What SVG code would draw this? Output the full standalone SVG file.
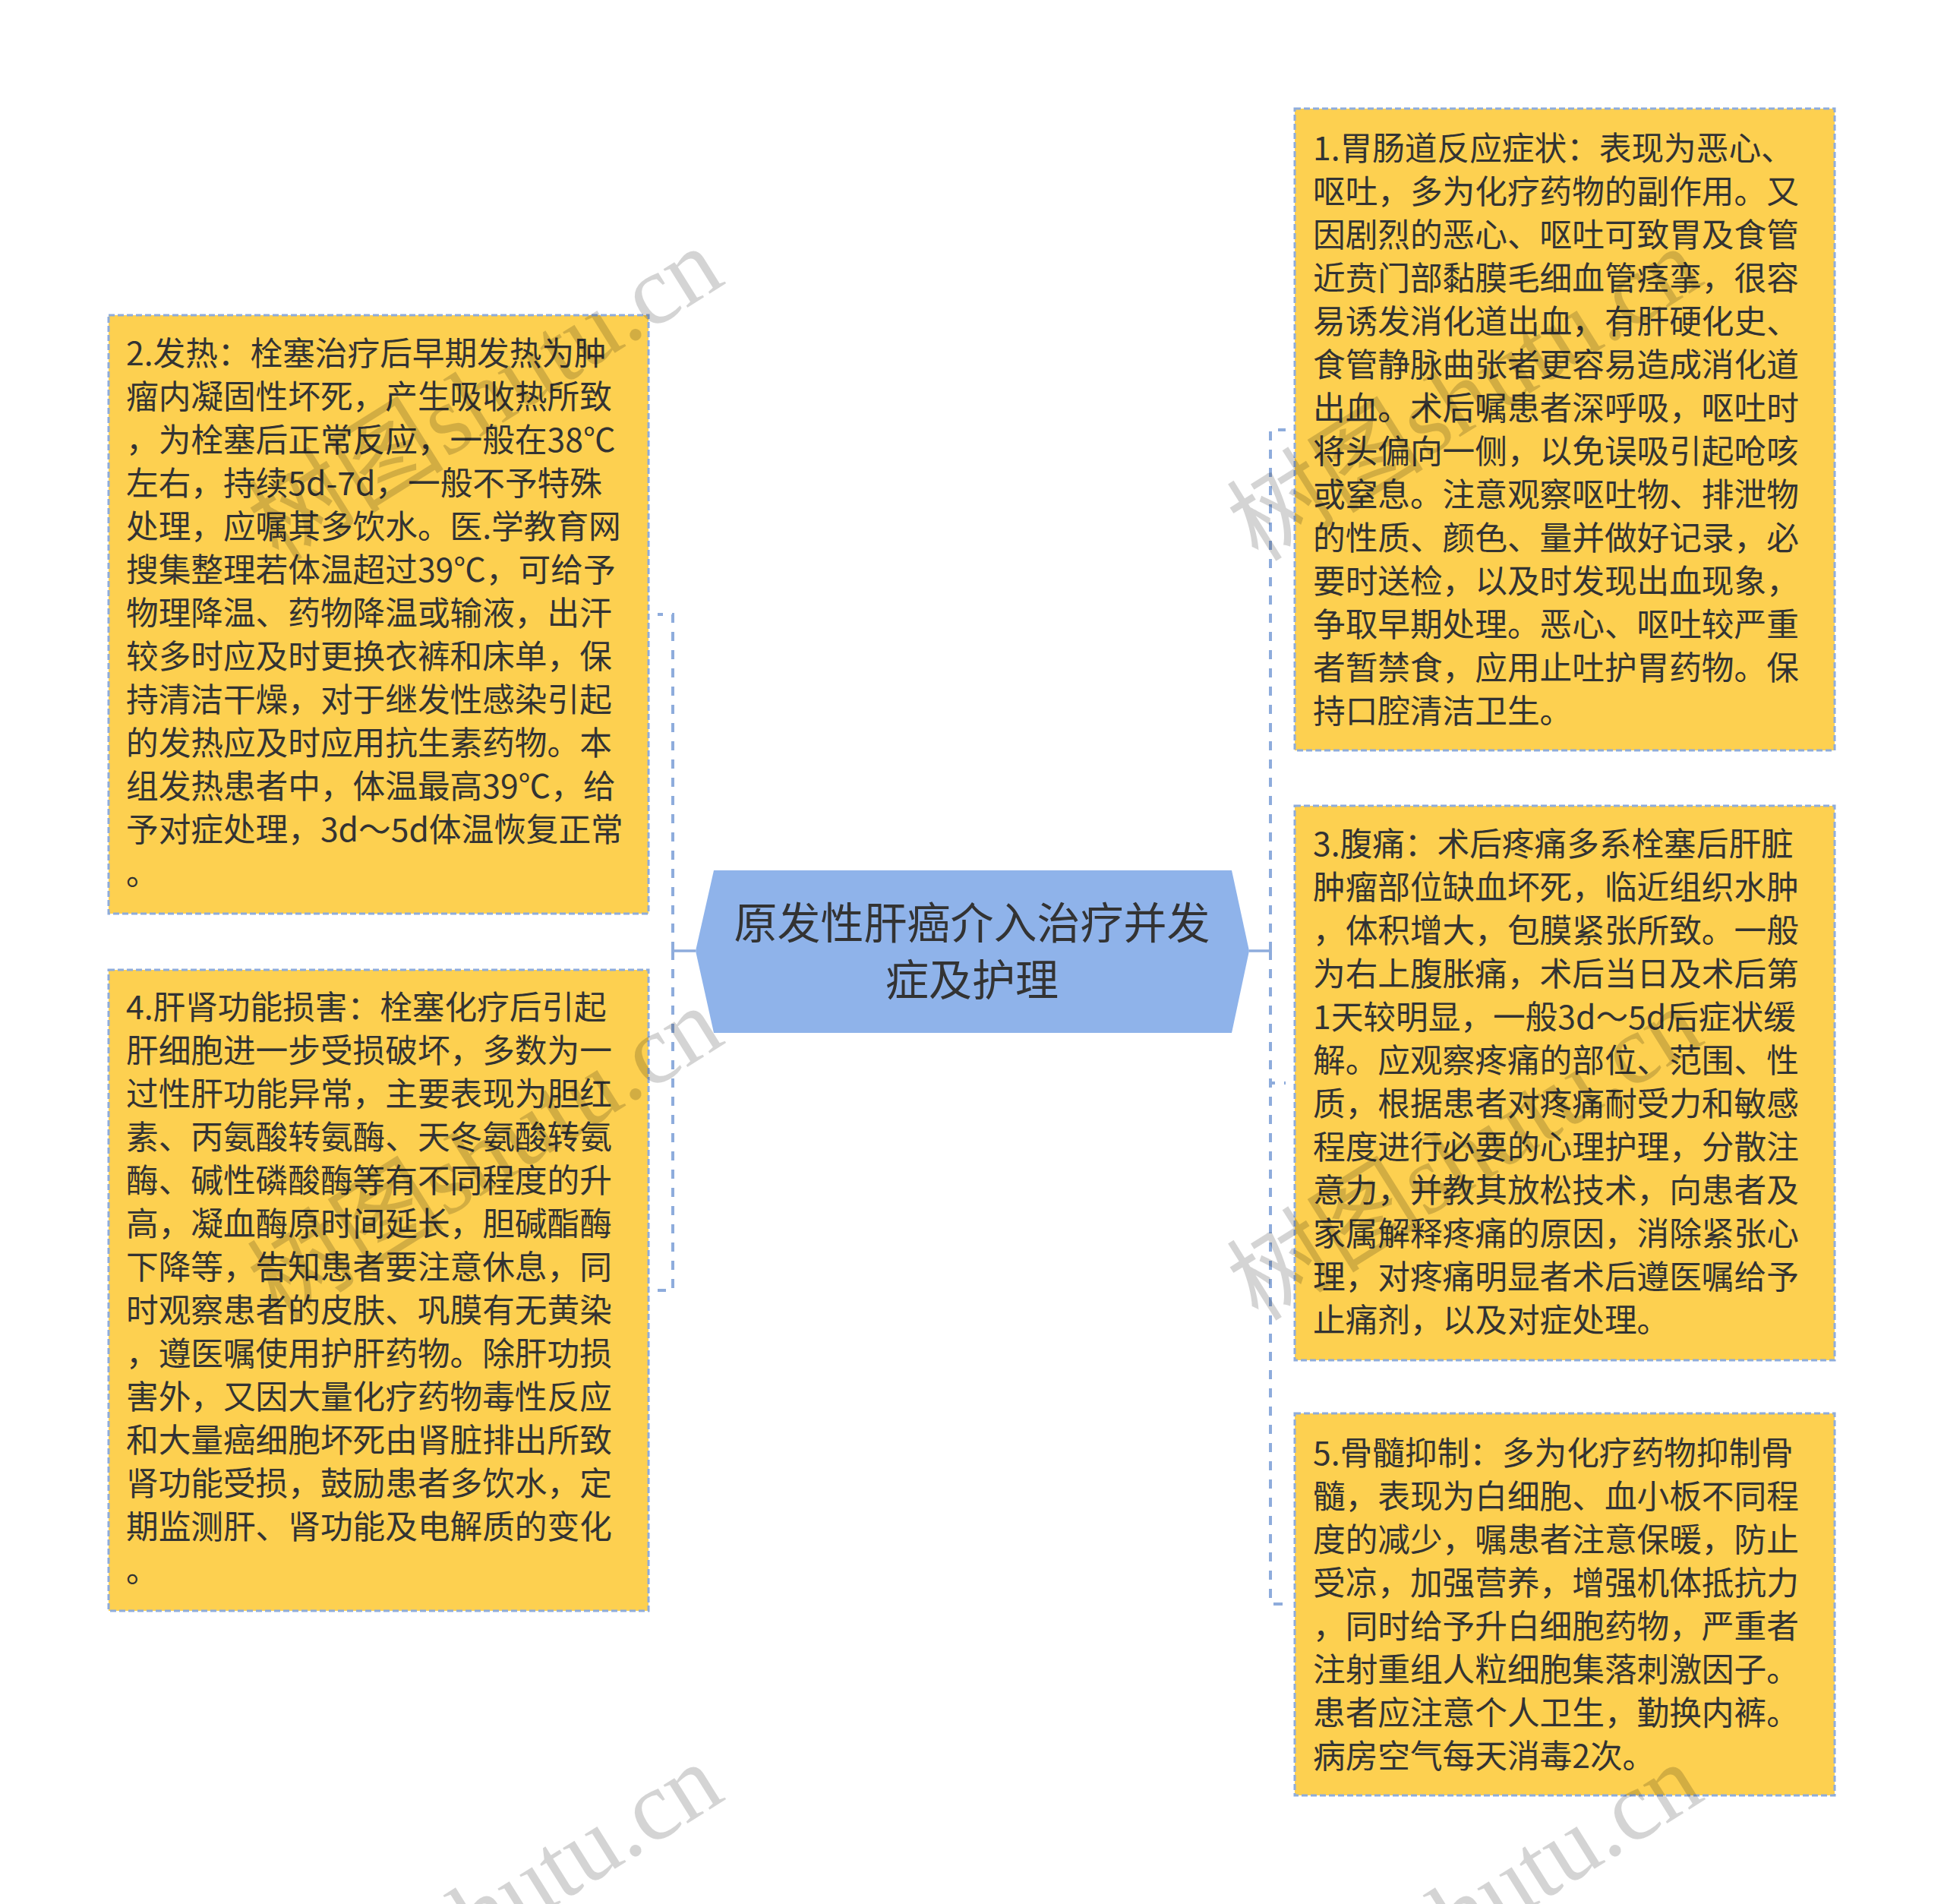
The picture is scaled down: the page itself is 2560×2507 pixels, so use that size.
<svg xmlns="http://www.w3.org/2000/svg" width="2560" height="2507" viewBox="0 0 2560 2507">
<style>
.bg{fill:#ffffff}
.box{fill:#fdd050;stroke:#8eacdc;stroke-width:3;stroke-dasharray:8,4}
.hex{fill:#8fb3ea}
.t{font-family:"Noto Sans CJK SC","Noto Sans",sans-serif;font-size:42.67px;fill:#333333}
.ct{font-family:"Noto Sans CJK SC","Noto Sans",sans-serif;font-size:57px;fill:#333333;text-anchor:middle}
.solid{fill:none;stroke:#8eacdc;stroke-width:3.5}
.dash{fill:none;stroke:#8eacdc;stroke-width:4;stroke-dasharray:12,12}
.wm{font-family:"Liberation Serif","Noto Sans CJK SC",serif;font-size:130px;fill:#000000;fill-opacity:0.17;text-anchor:end}
</style>
<rect class="bg" x="0" y="0" width="2560" height="2507"/>
<g id="connectors">
<path class="solid" d="M916,1252 H886"/>
<path class="solid" d="M886,1241 V1264"/>
<path class="dash" d="M886,1252 V809 H866"/>
<path class="dash" d="M886,1252 V1699 H866"/>
<path class="solid" d="M1645,1252 H1673"/>
<path class="solid" d="M1673,1241 V1264"/>
<path class="dash" d="M1673,1252 V566 H1693"/>
<path class="dash" d="M1673,1252 V1426 H1693"/>
<path class="dash" d="M1673,1252 V2112 H1693"/>
</g>
<g id="center">
<polygon class="hex" points="916,1252 940,1146 1622,1146 1645,1252 1622,1360 940,1360"/>
<text class="ct" x="1280" y="1236">原发性肝癌介入治疗并发</text>
<text class="ct" x="1280" y="1311">症及护理</text>
</g>
<g id="node1">
<rect class="box" x="1705" y="143" width="711" height="845"/>
<text class="t" x="1729" y="211">
<tspan x="1729" y="211">1.胃肠道反应症状：表现为恶心、</tspan>
<tspan x="1729" dy="57">呕吐，多为化疗药物的副作用。又</tspan>
<tspan x="1729" dy="57">因剧烈的恶心、呕吐可致胃及食管</tspan>
<tspan x="1729" dy="57">近贲门部黏膜毛细血管痉挛，很容</tspan>
<tspan x="1729" dy="57">易诱发消化道出血，有肝硬化史、</tspan>
<tspan x="1729" dy="57">食管静脉曲张者更容易造成消化道</tspan>
<tspan x="1729" dy="57">出血。术后嘱患者深呼吸，呕吐时</tspan>
<tspan x="1729" dy="57">将头偏向一侧，以免误吸引起呛咳</tspan>
<tspan x="1729" dy="57">或窒息。注意观察呕吐物、排泄物</tspan>
<tspan x="1729" dy="57">的性质、颜色、量并做好记录，必</tspan>
<tspan x="1729" dy="57">要时送检，以及时发现出血现象，</tspan>
<tspan x="1729" dy="57">争取早期处理。恶心、呕吐较严重</tspan>
<tspan x="1729" dy="57">者暂禁食，应用止吐护胃药物。保</tspan>
<tspan x="1729" dy="57">持口腔清洁卫生。</tspan>
</text>
</g>
<g id="node2">
<rect class="box" x="143" y="415" width="711" height="788"/>
<text class="t" x="166" y="481">
<tspan x="166" y="481">2.发热：栓塞治疗后早期发热为肿</tspan>
<tspan x="166" dy="57">瘤内凝固性坏死，产生吸收热所致</tspan>
<tspan x="166" dy="57">，为栓塞后正常反应，一般在38℃</tspan>
<tspan x="166" dy="57">左右，持续5d-7d，一般不予特殊</tspan>
<tspan x="166" dy="57">处理，应嘱其多饮水。医.学教育网</tspan>
<tspan x="166" dy="57">搜集整理若体温超过39℃，可给予</tspan>
<tspan x="166" dy="57">物理降温、药物降温或输液，出汗</tspan>
<tspan x="166" dy="57">较多时应及时更换衣裤和床单，保</tspan>
<tspan x="166" dy="57">持清洁干燥，对于继发性感染引起</tspan>
<tspan x="166" dy="57">的发热应及时应用抗生素药物。本</tspan>
<tspan x="166" dy="57">组发热患者中，体温最高39℃，给</tspan>
<tspan x="166" dy="57">予对症处理，3d～5d体温恢复正常</tspan>
<tspan x="166" dy="57">。</tspan>
</text>
</g>
<g id="node3">
<rect class="box" x="1705" y="1061" width="711" height="730"/>
<text class="t" x="1729" y="1127">
<tspan x="1729" y="1127">3.腹痛：术后疼痛多系栓塞后肝脏</tspan>
<tspan x="1729" dy="57">肿瘤部位缺血坏死，临近组织水肿</tspan>
<tspan x="1729" dy="57">，体积增大，包膜紧张所致。一般</tspan>
<tspan x="1729" dy="57">为右上腹胀痛，术后当日及术后第</tspan>
<tspan x="1729" dy="57">1天较明显，一般3d～5d后症状缓</tspan>
<tspan x="1729" dy="57">解。应观察疼痛的部位、范围、性</tspan>
<tspan x="1729" dy="57">质，根据患者对疼痛耐受力和敏感</tspan>
<tspan x="1729" dy="57">程度进行必要的心理护理，分散注</tspan>
<tspan x="1729" dy="57">意力，并教其放松技术，向患者及</tspan>
<tspan x="1729" dy="57">家属解释疼痛的原因，消除紧张心</tspan>
<tspan x="1729" dy="57">理，对疼痛明显者术后遵医嘱给予</tspan>
<tspan x="1729" dy="57">止痛剂，以及对症处理。</tspan>
</text>
</g>
<g id="node4">
<rect class="box" x="143" y="1277" width="711" height="844"/>
<text class="t" x="166" y="1342">
<tspan x="166" y="1342">4.肝肾功能损害：栓塞化疗后引起</tspan>
<tspan x="166" dy="57">肝细胞进一步受损破坏，多数为一</tspan>
<tspan x="166" dy="57">过性肝功能异常，主要表现为胆红</tspan>
<tspan x="166" dy="57">素、丙氨酸转氨酶、天冬氨酸转氨</tspan>
<tspan x="166" dy="57">酶、碱性磷酸酶等有不同程度的升</tspan>
<tspan x="166" dy="57">高，凝血酶原时间延长，胆碱酯酶</tspan>
<tspan x="166" dy="57">下降等，告知患者要注意休息，同</tspan>
<tspan x="166" dy="57">时观察患者的皮肤、巩膜有无黄染</tspan>
<tspan x="166" dy="57">，遵医嘱使用护肝药物。除肝功损</tspan>
<tspan x="166" dy="57">害外，又因大量化疗药物毒性反应</tspan>
<tspan x="166" dy="57">和大量癌细胞坏死由肾脏排出所致</tspan>
<tspan x="166" dy="57">肾功能受损，鼓励患者多饮水，定</tspan>
<tspan x="166" dy="57">期监测肝、肾功能及电解质的变化</tspan>
<tspan x="166" dy="57">。</tspan>
</text>
</g>
<g id="node5">
<rect class="box" x="1705" y="1861" width="711" height="503"/>
<text class="t" x="1729" y="1929">
<tspan x="1729" y="1929">5.骨髓抑制：多为化疗药物抑制骨</tspan>
<tspan x="1729" dy="57">髓，表现为白细胞、血小板不同程</tspan>
<tspan x="1729" dy="57">度的减少，嘱患者注意保暖，防止</tspan>
<tspan x="1729" dy="57">受凉，加强营养，增强机体抵抗力</tspan>
<tspan x="1729" dy="57">，同时给予升白细胞药物，严重者</tspan>
<tspan x="1729" dy="57">注射重组人粒细胞集落刺激因子。</tspan>
<tspan x="1729" dy="57">患者应注意个人卫生，勤换内裤。</tspan>
<tspan x="1729" dy="57">病房空气每天消毒2次。</tspan>
</text>
</g>
<g id="watermarks">
<text class="wm" transform="translate(958,372) rotate(-32)">树图shutu.cn</text>
<text class="wm" transform="translate(2248,372) rotate(-32)">树图shutu.cn</text>
<text class="wm" transform="translate(958,1372) rotate(-32)">树图shutu.cn</text>
<text class="wm" transform="translate(2248,1372) rotate(-32)">树图shutu.cn</text>
<text class="wm" transform="translate(958,2368) rotate(-32)">树图shutu.cn</text>
<text class="wm" transform="translate(2248,2368) rotate(-32)">树图shutu.cn</text>
</g>
</svg>
